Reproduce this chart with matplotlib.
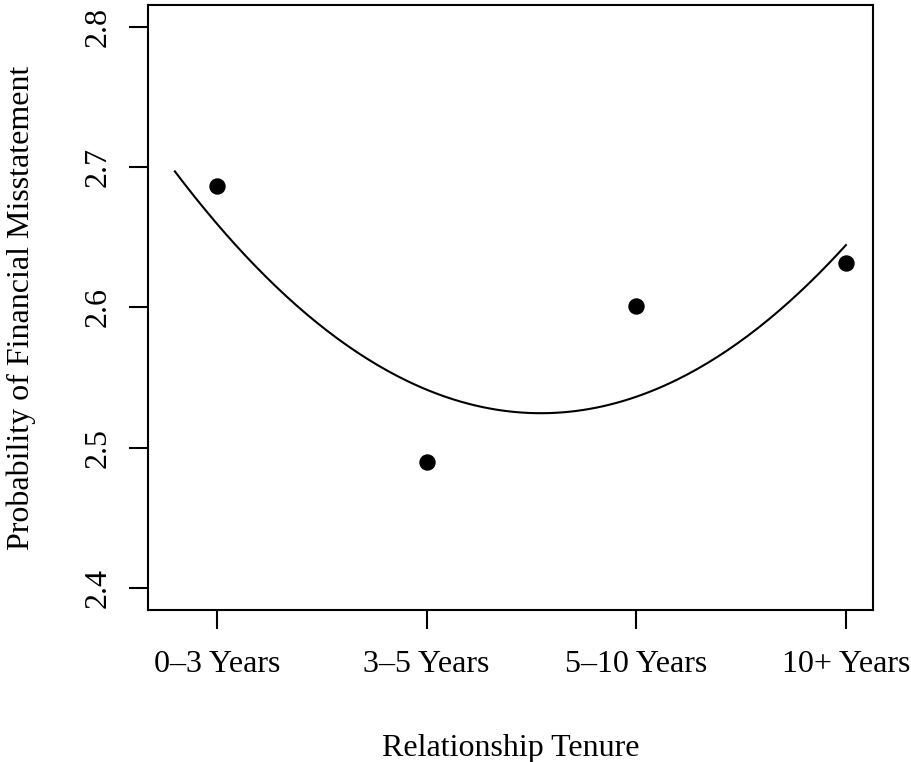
import numpy as np
import matplotlib.pyplot as plt

plt.rcParams['font.family'] = ['Liberation Serif', 'DejaVu Serif']

# data
tenure_labels = ['0\u20133 Years', '3\u20135 Years', '5\u201310 Years', '10+ Years']
tenure_pos = [1, 2, 3, 4]
prob_values = [2.687, 2.490, 2.601, 2.632]

# fitted quadratic curve (vertex form)
curve_range = (0.8, 4.0)
curve_a = 0.0567
curve_h = 2.545
curve_k = 2.5245

fig = plt.figure(figsize=(9.11, 7.62), dpi=100)
ax = fig.add_axes([0.1625, 0.1995, 0.7955, 0.794])

xs = np.linspace(curve_range[0], curve_range[1], 200)
ax.plot(xs, curve_a * (xs - curve_h) ** 2 + curve_k, color='black', lw=1.5)
ax.plot(tenure_pos, prob_values, 'o', color='black', markersize=10.8)

ax.set_xlim(0.672, 4.128)
ax.set_ylim(2.384, 2.816)
ax.set_xticks(tenure_pos)
ax.set_xticklabels(tenure_labels)
ax.set_yticks([2.4, 2.5, 2.6, 2.7, 2.8])
ax.set_yticklabels(['2.4', '2.5', '2.6', '2.7', '2.8'], rotation=90, va='center')

for s in ax.spines.values():
    s.set_linewidth(1.5)
ax.tick_params(axis='both', length=13.5, width=1.5, labelsize=23)
ax.tick_params(axis='x', pad=15)
ax.tick_params(axis='y', pad=12)

ax.set_xlabel('Relationship Tenure', fontsize=23, labelpad=40)
ax.set_ylabel('Probability of Financial Misstatement', fontsize=23, labelpad=34)

fig.savefig('out.png', dpi=100)
